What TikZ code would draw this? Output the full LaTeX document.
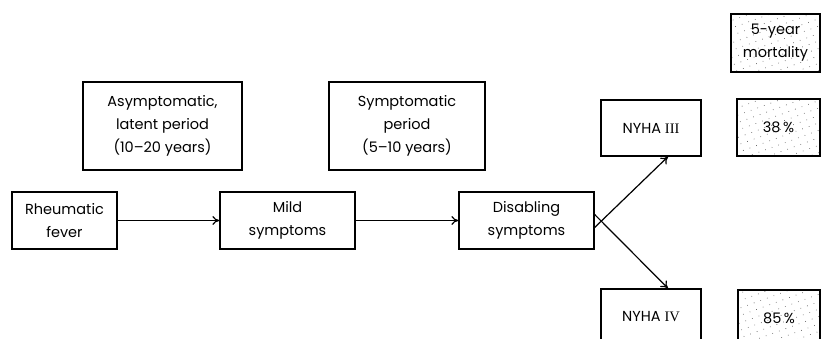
\documentclass[tikz,border=0pt]{standalone}
\usepackage{fontspec}
\setmainfont{Poppins}
\newfontfamily\romanfont{Liberation Serif}
\usetikzlibrary{patterns.meta,arrows.meta}
\begin{document}
\begin{tikzpicture}
[x=1pt,y=-1pt,
  boxdecorate/.style={draw,line width=1.3pt,align=center,inner sep=0pt,
    font=\fontsize{14.5}{23}\selectfont},%
  stippledecorate/.style={boxdecorate,
    pattern={Dots[distance=7pt,radius=0.45pt,angle=20]},pattern color=black!70},%
  linedecorate/.style={-{To[length=7pt,width=9pt]},line width=1.2pt}]
\useasboundingbox (0,0) rectangle (821,339);
%% boxes of the course
\foreach \nodename/\x/\y/\w/\h/\txt in {
  rheum/64.5/220.5/105/57/{Rheumatic\\fever},
  mild/287.5/220.5/135/57/{Mild\\symptoms},
  disab/526.5/220.5/135/57/{Disabling\\symptoms},
  asym/162.5/126/159/88/{Asymptomatic,\\latent period\\(10--20 years)},
  symp/407/126/156/88/{Symptomatic\\period\\(5--10 years)},
  nyhaiii/651/128/100/56/{NYHA {\romanfont III}},
  nyhaiv/651/317/100/56/{NYHA {\romanfont IV}}} {
  \node (\nodename) at (\x,\y) [boxdecorate,minimum width=\w pt,minimum height=\h pt] {\txt};
}
%% mortality boxes
\foreach \nodename/\x/\y/\w/\h/\txt in {
  mortality/775.5/43/89/58/{5-year\\mortality},
  morti/778.5/127.5/83/57/{38\,\%},
  mortii/779/318/82/56/{85\,\%}} {
  \node (\nodename) at (\x,\y) [stippledecorate,minimum width=\w pt,minimum height=\h pt] {\txt};
}
%% arrows
\draw[linedecorate] (rheum) -- (mild);
\draw[linedecorate] (mild) -- (disab);
\draw[linedecorate] ([yshift=-7pt]disab.east) -- ([xshift=17pt]nyhaiii.south);
\draw[linedecorate] ([yshift=6pt]disab.east) -- ([xshift=17pt]nyhaiv.north);
\end{tikzpicture}
\end{document}
